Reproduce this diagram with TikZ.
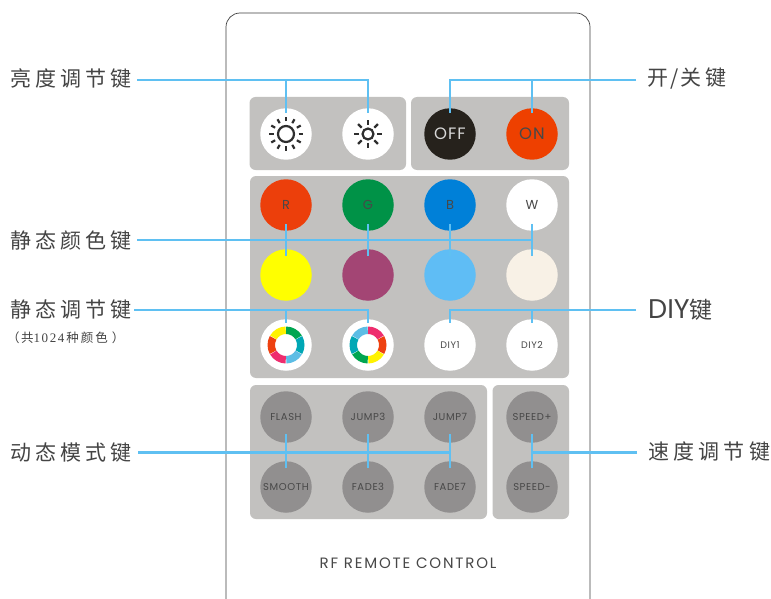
\documentclass[tikz,border=0pt]{standalone}
\usepackage{fontspec}
\setmainfont{Poppins}
\newfontfamily\cjk[LetterSpace=20]{Noto Sans CJK SC}
\newfontfamily\cjksmall[LetterSpace=16]{Noto Sans CJK SC}
\newfontfamily\lat{Poppins}
\newfontfamily\btn[LetterSpace=6]{Poppins}
\newfontfamily\ttl[LetterSpace=12]{Poppins}
\newfontfamily\dig[LetterSpace=12]{Liberation Serif}
\definecolor{panelc}{HTML}{C2C1BF}
\definecolor{greyb}{HTML}{918F8F}
\definecolor{linkc}{HTML}{5FC0F2}
\definecolor{txtc}{HTML}{444444}
\definecolor{btxt}{HTML}{484848}
\definecolor{ryel}{HTML}{FFF200}
\definecolor{rgrn}{HTML}{00A651}
\definecolor{rtea}{HTML}{00A7B5}
\definecolor{rblu}{HTML}{5CBDE5}
\definecolor{rpnk}{HTML}{EE2D6E}
\definecolor{rred}{HTML}{EE4110}
\definecolor{kred}{HTML}{EC3F0B}
\definecolor{kgrn}{HTML}{009247}
\definecolor{kblu}{HTML}{0080D8}
\definecolor{kyel}{HTML}{FFFF00}
\definecolor{kpur}{HTML}{A34574}
\definecolor{klbl}{HTML}{5FBDF5}
\definecolor{kcrm}{HTML}{F8F1E6}
\definecolor{koff}{HTML}{26221C}
\definecolor{kon}{HTML}{EE4000}
\definecolor{sunc}{HTML}{2E2E2E}
\tikzset{
  panel/.style={fill=panelc,rounded corners=6pt},
  key/.style={circle,minimum size=51.5pt,inner sep=0pt,text=btxt,font=\btn\fontsize{10}{10}\selectfont},
  bigkey/.style={key,font=\btn\fontsize{16.5}{16.5}\selectfont},
  colkey/.style={key,font=\btn\fontsize{13}{13}\selectfont},
  diykey/.style={key,fill=white,font=\btn\fontsize{9.5}{9.5}\selectfont},
  flab/.style={inner sep=0pt,anchor=west,text=txtc,font=\cjk\fontsize{21}{21}\selectfont},
  link/.style={draw=linkc,line width=2.4pt},
  ray/.style={draw=sunc,line width=2.2pt},
}
\newcommand{\ringseg}[4]{% centre, from angle, to angle, colour
  \fill[#4] ($(#1)+(#2:18.5pt)$) arc[start angle=#2,end angle=#3,radius=18.5pt]
    -- ($(#1)+(#3:11pt)$) arc[start angle=#3,end angle=#2,radius=11pt] -- cycle;}
\usetikzlibrary{calc}
\begin{document}
\begin{tikzpicture}[x=1pt,y=-1pt]
\clip (0,0) rectangle (771,599);
\fill[white] (0,0) rectangle (771,599);
% remote body
\draw[draw=black!75,line width=0.7pt,rounded corners=14pt] (226,630) -- (226,13) -- (590,13) -- (590,630);
% panels
\fill[panel] (249.5,97) rectangle (406,170);
\fill[panel] (411,97) rectangle (569,170);
\fill[panel] (250,176) rectangle (569,378);
\fill[panel] (250,385) rectangle (487,519);
\fill[panel] (492.5,385) rectangle (569,519);
% keys row 1
\node[key,fill=white] (sunA) at (286,134) {};
\node[key,fill=white] (sunB) at (368,134) {};
\node[bigkey,fill=koff,text=white!85!black] (off) at (450,134) {OFF};
\node[bigkey,fill=kon] (on) at (532,134) {ON};
\draw[line width=2.2pt,draw=sunc] (sunA.center) circle[radius=8pt];
\foreach \a in {0,30,...,330} \draw[ray] ($(sunA.center)+(\a:12.5pt)$) -- ($(sunA.center)+(\a:17pt)$);
\draw[line width=2.2pt,draw=sunc] (sunB.center) circle[radius=5.5pt];
\foreach \a in {0,45,...,315} \draw[ray] ($(sunB.center)+(\a:9pt)$) -- ($(sunB.center)+(\a:14pt)$);
% keys row 2
\node[colkey,fill=kred] (kr) at (286,205) {R};
\node[colkey,fill=kgrn] (kg) at (368,205) {G};
\node[colkey,fill=kblu] (kb) at (450,205) {B};
\node[colkey,fill=white] (kw) at (532,205) {W};
% keys row 3
\node[key,fill=kyel] (ky) at (286,275) {};
\node[key,fill=kpur] (kp) at (368,275) {};
\node[key,fill=klbl] (kl) at (450,275) {};
\node[key,fill=kcrm] (kc) at (532,275) {};
% keys row 4
\node[key,fill=white] (sa) at (286,345) {};
\node[key,fill=white] (sb) at (368,345) {};
\node[diykey] (d1) at (450,345) {DIY1};
\node[diykey] (d2) at (532,345) {DIY2};
\ringseg{sa.center}{90}{31}{rgrn}
\ringseg{sa.center}{29}{-29}{rtea}
\ringseg{sa.center}{-31}{-89}{rblu}
\ringseg{sa.center}{-91}{-149}{rpnk}
\ringseg{sa.center}{-151}{-209}{rred}
\ringseg{sa.center}{149}{91}{ryel}
\ringseg{sb.center}{90}{31}{rpnk}
\ringseg{sb.center}{29}{-29}{rred}
\ringseg{sb.center}{-31}{-89}{ryel}
\ringseg{sb.center}{-91}{-149}{rgrn}
\ringseg{sb.center}{-151}{-209}{rtea}
\ringseg{sb.center}{149}{91}{rblu}
% keys row 5-6
\node[key,fill=greyb] (fl) at (286,417) {FLASH};
\node[key,fill=greyb] (j3) at (368,417) {JUMP3};
\node[key,fill=greyb] (j7) at (450,417) {JUMP7};
\node[key,fill=greyb] (sp) at (532,417) {SPEED+};
\node[key,fill=greyb] (sm) at (286,487) {SMOOTH};
\node[key,fill=greyb] (f3) at (368,487) {FADE3};
\node[key,fill=greyb] (f7) at (450,487) {FADE7};
\node[key,fill=greyb] (sn) at (532,487) {SPEED-};
% title
\node[inner sep=0pt,text=btxt,font=\ttl\fontsize{15}{15}\selectfont] (title) at (408,563) {RF REMOTE CONTROL};
% labels
\node[flab] (l1) at (10,79) {亮度调节键};
\node[flab] (l2) at (10,241) {静态颜色键};
\node[flab] (l3) at (10,310) {静态调节键};
\node[inner sep=0pt,anchor=west,text=txtc,font=\cjksmall\fontsize{12.5}{12.5}\selectfont] (l3b) at (7,338) {（\kern1.5pt 共{\dig\fontsize{13}{13}\selectfont 1024}\kern2pt 种颜色\kern4pt ）};
\node[flab] (l4) at (10,453) {动态模式键};
\node[flab] (r1) at (647,79) {开\kern2pt/\kern2pt关键};
\node[flab] (r2) at (648,310) {{\lat\fontsize{27}{27}\selectfont DIY}{\fontsize{23}{23}\selectfont 键}};
\node[flab] (r3) at (648,452) {速度调节键};
% connectors
\coordinate (h1) at (368,80);
\draw[link] ([xshift=5pt]l1.east |- h1) -- (h1) -- ([yshift=-5pt]sunB.north);
\draw[link] (sunA.north |- h1) -- ([yshift=-5pt]sunA.north);
\coordinate (h2) at (450,80);
\draw[link] ([xshift=-11pt]r1.west |- h2) -- (h2) -- ([yshift=-5pt]off.north);
\draw[link] (on.north |- h2) -- ([yshift=-5pt]on.north);
\coordinate (h3) at (532,240);
\draw[link] ([xshift=5pt]l2.east |- h3) -- (h3);
\draw[link] ([yshift=7pt]kw.south) -- ([yshift=-7pt]kc.north);
\draw[link] ([yshift=7pt]kr.south) -- ([yshift=-7pt]ky.north);
\draw[link] ([yshift=7pt]kg.south) -- ([yshift=-7pt]kp.north);
\draw[link] ([yshift=7pt]kb.south) -- ([yshift=-7pt]kl.north);
\coordinate (h4) at (368,310);
\draw[link] ([xshift=2pt]l3.east |- h4) -- (h4) -- ([yshift=-4pt]sb.north);
\draw[link] (sa.north |- h4) -- ([yshift=-4pt]sa.north);
\coordinate (h5) at (450,310);
\draw[link] ([xshift=-12pt]r2.west |- h5) -- (h5) -- ([yshift=-4pt]d1.north);
\draw[link] (d2.north |- h5) -- ([yshift=-4pt]d2.north);
\coordinate (h6) at (450,452.5);
\draw[link] ([xshift=6pt]l4.east |- h6) -- (h6);
\draw[link] ([yshift=9pt]fl.south) -- ([yshift=-7pt]sm.north);
\draw[link] ([yshift=9pt]j3.south) -- ([yshift=-7pt]f3.north);
\draw[link] ([yshift=9pt]j7.south) -- ([yshift=-7pt]f7.north);
\coordinate (h7) at (532,452.5);
\draw[link] ([xshift=-11pt]r3.west |- h7) -- (h7);
\draw[link] ([yshift=9pt]sp.south) -- ([yshift=-7pt]sn.north);
\end{tikzpicture}
\end{document}
